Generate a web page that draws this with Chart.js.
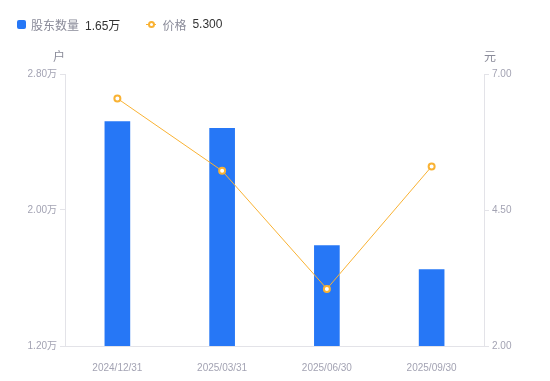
<!DOCTYPE html>
<html>
<head>
<meta charset="utf-8">
<script src="https://cdn.jsdelivr.net/npm/chart.js@4/dist/chart.umd.min.js"></script>
<style>
    html, body { margin: 0; padding: 0; background: #fff; }
    #wrap { position: relative; width: 550px; height: 381px; }
    #legend {
        position: absolute; left: 17px; top: 16px; height: 16px;
        font: 12px "Liberation Sans", "Noto Sans CJK SC", sans-serif;
        display: flex; align-items: center; white-space: nowrap;
    }
    .item { display: flex; align-items: center; margin-right: 26px; }
    .name { color: #8a8b99; margin-right: 6px; }
    .val { color: #333; }
    .box { width: 9px; height: 9px; background: #2677f6; border-radius: 2px; margin-right: 5px; }
    .mark { position: relative; width: 10px; height: 9px; margin-right: 6px; }
    .mark .ln { position: absolute; left: 0; right: 0; top: 4px; height: 1px; background: #f9b233; }
    .mark .dot { position: absolute; left: 2px; top: 1px; width: 3px; height: 3px; border: 2px solid #f9b233; border-radius: 50%; background: #fff; }
</style>
</head>
<body>
<div id="wrap">
    <canvas id="chart" width="550" height="381"></canvas>
    <div id="legend"></div>
</div>
<script>
// Data
const dates = ['2024/12/31', '2025/03/31', '2025/06/30', '2025/09/30'];
const holders = [2.52, 2.48, 1.79, 1.65];   // 万户
const prices = [6.55, 5.22, 3.05, 5.30];    // 元
const holderTicks = [1.2, 2.0, 2.8];
const priceTicks = [2.0, 4.5, 7.0];

const BLUE = '#2677f6';
const ORANGE = '#f9b233';
const TICK_GREY = '#a3a3b3';
const AXIS_GREY = '#e3e3e8';
const FONT = '"Liberation Sans", "Noto Sans CJK SC", sans-serif';

// Legend shows the latest values
const last = holders.length - 1;
document.getElementById('legend').innerHTML = `
    <div class="item"><div class="box"></div><span class="name">股东数量</span><span class="val">${holders[last].toFixed(2)}万</span></div>
    <div class="item"><div class="mark"><div class="ln"></div><div class="dot"></div></div><span class="name">价格</span><span class="val">${prices[last].toFixed(3)}</span></div>
`;

// Unit labels above each y axis
const unitLabels = {
    id: 'unitLabels',
    afterDraw(chart) {
        const ctx = chart.ctx;
        ctx.save();
        ctx.font = '12px ' + FONT;
        ctx.fillStyle = '#8a8b99';
        ctx.textBaseline = 'middle';
        ctx.textAlign = 'center';
        ctx.fillText('户', chart.scales.y.right - 6, 58);
        ctx.fillText('元', chart.scales.y1.left + 6, 58);
        ctx.restore();
    }
};

const ctx = document.getElementById('chart').getContext('2d');
new Chart(ctx, {
    data: {
        labels: dates,
        datasets: [
            {
                type: 'line',
                label: '价格',
                data: prices,
                yAxisID: 'y1',
                borderColor: ORANGE,
                borderWidth: 1,
                pointRadius: 3,
                pointBorderWidth: 2,
                pointBackgroundColor: '#fff',
                pointBorderColor: ORANGE,
                tension: 0,
                order: 0
            },
            {
                type: 'bar',
                label: '股东数量',
                data: holders,
                yAxisID: 'y',
                backgroundColor: BLUE,
                barThickness: 25,
                order: 1
            }
        ]
    },
    options: {
        responsive: false,
        animation: false,
        layout: { padding: { top: 74 } },
        plugins: {
            legend: { display: false },
            tooltip: { enabled: false }
        },
        scales: {
            x: {
                grid: { display: false },
                border: { display: true, color: AXIS_GREY },
                ticks: { color: TICK_GREY, font: { size: 10, family: FONT }, padding: 8 },
                afterFit: s => { s.height = 35; }
            },
            y: {
                position: 'left',
                min: 1.2,
                max: 2.8,
                afterBuildTicks: s => { s.ticks = holderTicks.map(v => ({ value: v })); },
                grid: { drawOnChartArea: false, tickLength: 5, color: AXIS_GREY },
                border: { color: AXIS_GREY },
                ticks: {
                    color: TICK_GREY,
                    font: { size: 10, family: FONT },
                    padding: 3,
                    callback: v => v.toFixed(2) + '万'
                },
                afterFit: s => { s.width = 65; }
            },
            y1: {
                position: 'right',
                min: 2,
                max: 7,
                afterBuildTicks: s => { s.ticks = priceTicks.map(v => ({ value: v })); },
                grid: { drawOnChartArea: false, tickLength: 5, color: AXIS_GREY },
                border: { color: AXIS_GREY },
                ticks: {
                    color: TICK_GREY,
                    font: { size: 10, family: FONT },
                    padding: 3,
                    callback: v => v.toFixed(2)
                },
                afterFit: s => { s.width = 66; }
            }
        }
    },
    plugins: [unitLabels]
});
</script>
</body>
</html>
